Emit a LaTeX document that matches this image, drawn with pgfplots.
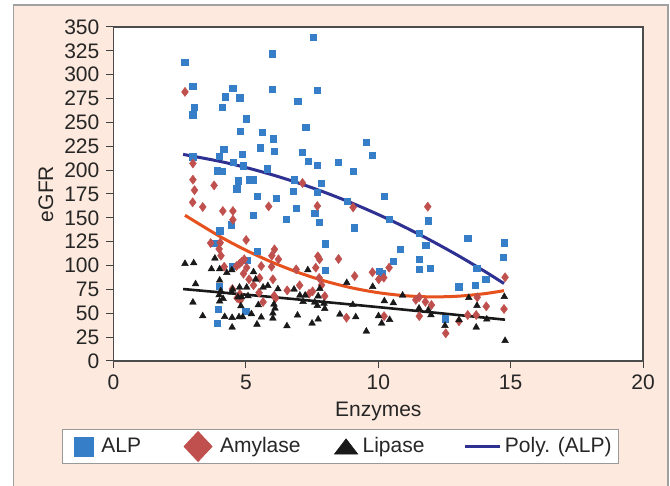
\documentclass[border=0pt]{standalone}
\usepackage{fontspec}
\setmainfont{Liberation Sans}
\usepackage{pgfplots}
\pgfplotsset{compat=1.18}

\definecolor{peach}{RGB}{253,233,221}
\definecolor{framegray}{RGB}{160,160,160}
\definecolor{alpblue}{RGB}{55,126,200}
\definecolor{amyred}{RGB}{192,80,77}
\definecolor{lipblack}{RGB}{25,25,25}
\definecolor{polyblue}{RGB}{46,49,146}
\definecolor{polyorange}{RGB}{230,81,30}

\begin{document}
\fontsize{21bp}{25bp}\selectfont
\begin{tikzpicture}
\path[use as bounding box] (0,0) rectangle (670bp,486bp);
\fill[white] (0,0) rectangle (670bp,486bp);
\filldraw[fill=peach, draw=framegray, line width=1.2bp] (13.5bp,-10bp) rectangle (668bp,481bp);
\begin{axis}[
    at={(113.5bp,125bp)}, anchor=south west,
    width=529.5bp, height=334bp, scale only axis,
    xmin=0, xmax=20, ymin=0, ymax=350,
    xtick={0,5,...,20}, ytick={0,25,...,350},
    tick pos=left, tick align=outside,
    major tick length=7bp,
    tick style={black!75, line width=1bp},
    axis line style={black!70, line width=1.2bp},
    axis background/.style={fill=white},
    /pgf/number format/assume math mode=true,
    tick label style={font=\fontsize{21bp}{25bp}\selectfont, text=black!85},
    label style={font=\fontsize{21bp}{25bp}\selectfont, text=black!85},
    xlabel={Enzymes}, ylabel={eGFR},
    xlabel style={at={(axis description cs:0.5,-0.152)}, anchor=center},
    ylabel style={at={(axis description cs:-0.1275,0.5)}, anchor=center},
    legend columns=4,
    legend style={at={(axis description cs:0.4278,-0.256)}, anchor=center,
        draw=black!40, fill=white, line width=0.8bp,
        inner xsep=6.5bp, inner ysep=7.5bp,
        nodes={inner sep=0pt},
        font=\fontsize{21bp}{25bp}\selectfont, text=black!85,
        /tikz/column 2/.style={column sep=43bp},
        /tikz/column 4/.style={column sep=34bp},
        /tikz/column 6/.style={column sep=39bp}},
]
% ALP
\addplot[only marks, mark=square*, mark size=3.1bp, color=alpblue,
    legend image code/.code={
        \path[draw=none,fill=none] (-5.9bp,-8bp) rectangle (27bp,8bp);
        \fill[alpblue,overlay] (0bp,-9.5bp) rectangle (19.5bp,9.5bp);}]
coordinates {
(2.69,313) (6.0,322) (2.99,288) (4.5,286) (5.99,285) (4.23,277) (4.77,276)
(6.96,272) (3.06,266) (4.12,266) (2.99,258) (5.01,254) (4.8,241) (5.62,240)
(6.03,233) (4.16,222) (5.55,223.5) (6.08,220) (4.85,217) (3.98,214.5) (2.99,214)
(4.52,208) (4.91,204.7) (5.8,201.5) (3.93,199.4) (4.11,198.8) (4.72,189) (5.14,190)
(5.29,190) (4.65,180.5) (6.84,190) (6.8,178) (5.42,173) (6.16,171) (7.54,339)
(7.68,283.6) (7.26,245) (7.14,219) (7.35,209) (7.69,205) (8.5,208.5) (9.54,229)
(9.78,216) (9.05,199) (7.83,186) (7.7,176.8) (8.82,167.5) (10.23,172.6) (6.89,160)
(6.53,149) (7.6,155) (7.78,145.7) (9.1,139.7) (10.41,148.8) (11.54,134) (11.88,147)
(11.79,121) (8.0,123) (10.84,117) (13.38,129) (14.75,124) (14.71,109) (10.56,104.5)
(11.55,106.5) (11.55,96.4) (11.97,97) (10.03,94.3) (10.14,91.5) (7.99,95.4)
(13.04,77.9) (13.65,79.3) (14.06,85.6) (13.72,97) (12.54,44.3) (5.29,152.7)
(4.45,142.9) (4.01,136.5) (3.82,123.6) (5.44,115.3) (5.06,106) (4.48,99.5)
(3.98,78.6) (3.96,54.5) (4.99,52.4) (3.93,39.5)
};
\addlegendentry{ALP}

% Amylase
\addplot[only marks, mark=diamond*, mark size=4.6bp, color=amyred,
    legend image code/.code={
        \path[draw=none,fill=none] (0bp,-8bp) rectangle (36bp,8bp);
        \fill[amyred,overlay] (0bp,0bp) -- (14bp,15bp) -- (28bp,0bp) -- (14bp,-15bp) -- cycle;}]
coordinates {
(2.7,282) (3.0,207) (3.0,190) (3.06,179) (3.8,184) (2.99,166.3) (3.37,161.4)
(4.13,157.2) (4.51,157.2) (4.51,148) (5.86,162) (7.14,186.5) (7.7,162.4) (9.05,161)
(11.87,161.7) (6.9,96) (7.72,109.7) (7.78,106.5) (8.5,106.9) (7.64,97.8) (7.77,87)
(7.86,79.6) (7.03,79.3) (6.56,74) (7.52,73) (7.39,70.5) (7.98,68) (9.11,89)
(9.78,93) (10.02,85.6) (10.21,87.3) (10.41,97.8) (11.42,64) (11.55,67) (11.78,62)
(12.01,58.7) (11.55,47) (12.55,29) (13.05,41.6) (13.38,48.2) (13.7,48.2)
(13.74,66.7) (14.08,57.3) (14.79,87.7) (14.75,54.5) (8.8,45.4) (10.22,47)
(3.67,123.6) (4.03,124) (5.01,126.8) (3.99,117.4) (4.06,110.3) (4.18,98.8)
(4.65,99.5) (4.76,102) (4.84,104) (4.94,106.6) (6.08,117) (5.98,110.3) (6.23,106.6)
(5.03,97.8) (5.58,99.5) (5.97,98.8) (4.91,91.5) (5.12,85.6) (5.52,87) (6.02,85.6)
(5.29,79.3) (4.49,75.4) (4.77,70.2) (4.67,66) (4.79,63.6) (5.5,71.6) (6.07,68.4)
(6.12,65.7) (5.65,61.8)
};
\addlegendentry{Amylase}

% Lipase
\addplot[only marks, mark=triangle*, mark size=3.9bp, color=lipblack,
    legend image code/.code={
        \path[draw=none,fill=none] (0bp,-8bp) rectangle (28bp,8bp);
        \fill[lipblack,overlay] (0bp,-7.5bp) -- (11.5bp,7.5bp) -- (23bp,-7.5bp) -- cycle;}]
coordinates {
(7.34,95.4) (8.81,82) (9.79,77.9) (6.82,75.1) (7.79,75.8) (7.04,68.8) (7.24,68.8)
(7.73,68) (7.16,62.2) (7.6,61.5) (7.7,58) (7.95,60.4) (7.98,54.8) (9.04,59)
(10.23,62.9) (10.57,60.8) (10.92,68.8) (11.54,55.2) (11.89,53.4) (11.99,48.2)
(6.95,47.9) (8.55,48.9) (9.15,46.1) (10.01,47.2) (10.43,43.3) (10.13,39.5)
(7.73,43.7) (7.5,39.5) (6.55,36.7) (9.55,31.1) (12.52,37) (13.05,43) (13.42,66.3)
(13.73,58) (13.7,35.3) (14.1,43.7) (14.76,67.4) (14.79,21.3) (2.7,102) (3.03,102.7)
(3.1,80.7) (3.83,107.6) (3.7,96.4) (4.01,96.4) (4.28,92.5) (4.47,95.4) (5.29,93.3)
(5.37,85.6) (4.01,84.6) (3.0,61.5) (3.37,47.2) (4.05,73.4) (4.5,75.1) (4.76,77.2)
(5.03,77.2) (5.65,77.2) (5.83,78.9) (6.21,75.4) (3.99,69.2) (4.14,65.3) (4.01,62.6)
(4.46,72) (4.7,67) (4.84,67) (5.08,68.1) (4.81,57.6) (5.47,58.7) (6.06,59.4)
(6.1,55.2) (6.02,50) (4.2,46.4) (4.48,45.4) (4.74,46.1) (4.88,46.1) (5.21,49.3)
(5.58,45.8) (6.02,44.7) (4.48,35.3) (5.42,38.4)
};
\addlegendentry{Lipase}

% Poly. (ALP)
\addplot[polyblue, line width=3bp, smooth, no marks,
    legend image code/.code={
        \path[draw=none,fill=none] (0bp,-8bp) rectangle (40bp,8bp);
        \draw[polyblue, line width=3bp] (0bp,0bp) -- (35bp,0bp);}]
coordinates {
(2.63,216.5) (4,209.3) (5,202.75) (6,195.1) (7,186.35) (8,176.5) (9,165.55)
(10,153.5) (11,140.35) (12,126.1) (13,110.75) (14,94.3) (14.75,81.2)
};
\addlegendentry{Poly. (ALP)}

% Poly. (Amylase)
\addplot[polyorange, line width=3bp, smooth, no marks, forget plot]
coordinates {
(2.7,152.7) (4,130.8) (5,116.1) (6,103.4) (7,92.55) (8,83.65) (9,76.66)
(10,71.59) (11,68.44) (12,67.2) (13,67.89) (14,70.5) (14.75,73.7)
};

% Poly. (Lipase)
\addplot[lipblack, line width=2.6bp, smooth, no marks, forget plot]
coordinates {
(2.63,75.4) (6,67.0) (9.05,59) (12,51.0) (14.79,43.3)
};
\end{axis}
\end{tikzpicture}
\end{document}
